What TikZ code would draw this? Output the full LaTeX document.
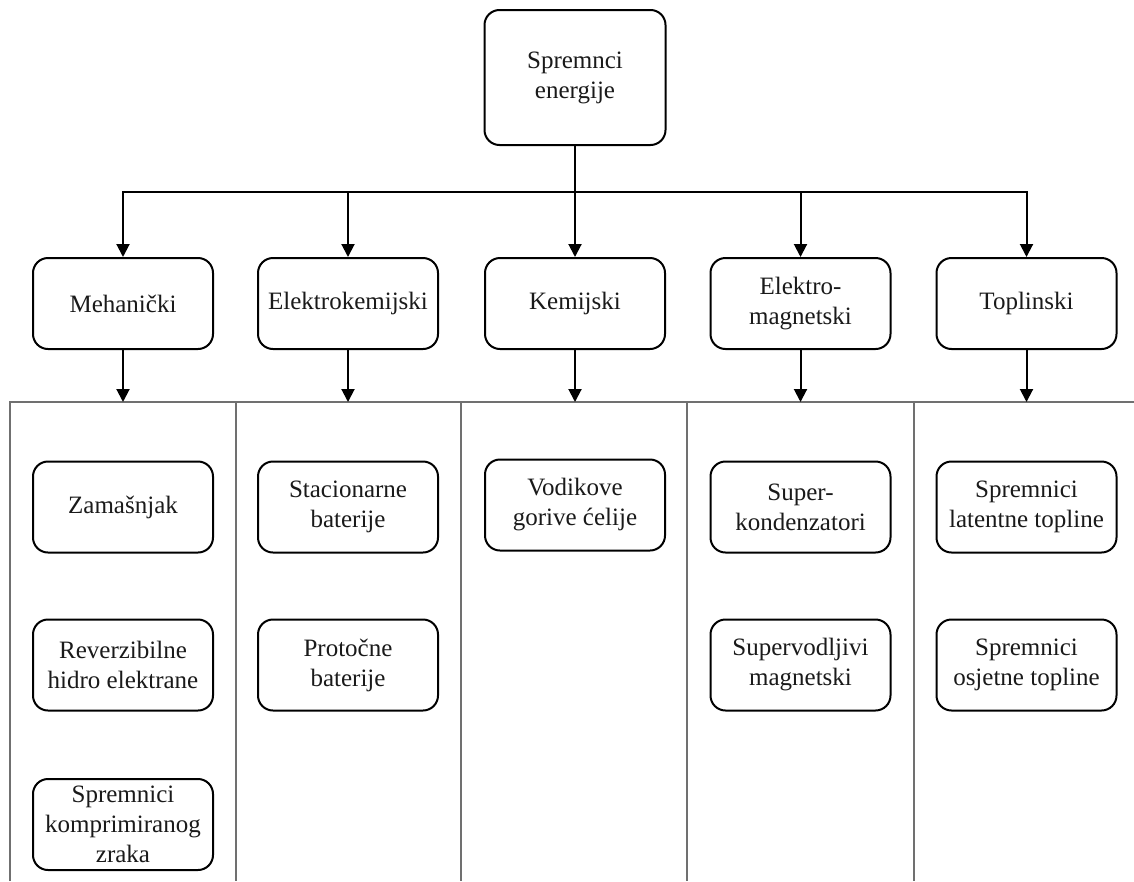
\documentclass[tikz,border=0pt]{standalone}
\usepackage{fontspec}
\setmainfont{Liberation Serif}
\usetikzlibrary{arrows.meta,calc}
\definecolor{txt}{HTML}{1A1A1A}
\definecolor{sepgray}{HTML}{707070}
\tikzset{
  box/.style={draw=black, line width=2pt, rounded corners=15pt, fill=white,
    minimum width=180pt, minimum height=91pt, inner xsep=2pt, inner ysep=2pt,
    align=center, text=txt, font=\fontsize{25}{30}\selectfont},
  arr/.style={draw=black, line width=2pt, -{Triangle[width=13pt,length=13pt]}},
  sepline/.style={draw=sepgray, line width=1.4pt}
}
\begin{document}
\begin{tikzpicture}[x=1pt,y=-1pt]
\useasboundingbox (0,0) rectangle (1134,881);
% top
\node[box, minimum width=181pt, minimum height=135pt] (top) at (575,77.5) {Spremnci\\energije};
% level 2
\node[box] (meh) at (123,303.5) {Mehanički};
\node[box] (ekem) at (348,303.5) {Elektrokemijski};
\node[box] (kem) at (575,303.5) {Kemijski};
\node[box] (emag) at (800.5,303.5) {Elektro-\\magnetski};
\node[box] (topl) at (1026.5,303.5) {Toplinski};
\coordinate (bus) at (575,192);
\foreach \n in {meh,ekem,kem,emag,topl}{
  \draw[arr] (top.south) -- (bus) -| (\n.north);
}
% separator
\coordinate (sep) at (0,402);
\draw[sepline] (10,881) -- (10,402) -- (1134,402);
\foreach \xx in {236,461,687,914}{
  \draw[sepline] (\xx,402) -- (\xx,881);
}
\foreach \n in {meh,ekem,kem,emag,topl}{
  \draw[arr] (\n.south) -- (\n.south |- sep);
}
% leaves
\node[box] (zam) at (123,507) {Zamašnjak};
\node[box] (rev) at (123,665) {Reverzibilne\\hidro elektrane};
\node[box] (komp) at (123,824.5) {Spremnici\\komprimiranog\\zraka};
\node[box] (stac) at (348,507) {Stacionarne\\baterije};
\node[box] (prot) at (348,665) {Protočne\\baterije};
\node[box] (vod) at (575,505) {Vodikove\\gorive ćelije};
\node[box] (sup) at (800.5,507) {Super-\\kondenzatori};
\node[box] (svm) at (800.5,665) {Supervodljivi\\magnetski};
\node[box] (lat) at (1026.5,507) {Spremnici\\latentne topline};
\node[box] (osj) at (1026.5,665) {Spremnici\\osjetne topline};
\end{tikzpicture}
\end{document}
